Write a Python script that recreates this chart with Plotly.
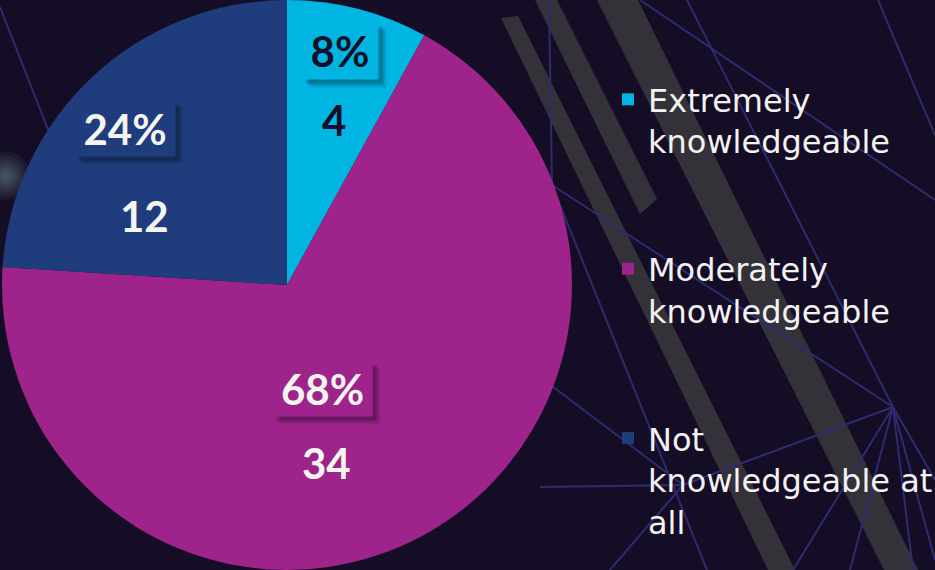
import plotly.graph_objects as go

# ---- data ----
categories = ["Extremely knowledgeable", "Moderately knowledgeable", "Not knowledgeable at all"]
legend_labels = ["Extremely<br>knowledgeable", "Moderately<br>knowledgeable", "Not<br>knowledgeable at<br>all"]
counts = [4, 34, 12]

# ---- styles / layout constants ----
W, H = 935, 570
slice_colors = ["#00B5E2", "#9E248C", "#1F3D7C"]
label_text_colors = ["#15102A", "#F5F5F0", "#F5F5F0"]
bg = "#150D25"
# label positions in pixels (same order as the slices)
pct_pos = [(340, 51), (322, 388), (125, 128)]
val_pos = [(334, 120), (326, 463), (144, 216)]
box_size = [(76, 56), (99, 55), (100, 55)]


def px(x, y):
    return x / W, 1 - y / H


def path(points, close=False):
    s = ""
    for i, (x, y) in enumerate(points):
        fx, fy = px(x, y)
        s += ("M" if i == 0 else "L") + f"{fx:.5f},{fy:.5f}"
    if close:
        s += "Z"
    return s


shapes = []
band_col = "rgba(58,57,60,0.85)"
bands = [
    [(501, 18), (518, 16), (795, 570), (768, 570)],
    [(535, 0), (557, 0), (657, 199), (640, 214)],
    [(597, 0), (638, 0), (918, 570), (884, 570)],
]
for b in bands:
    shapes.append(dict(type="path", path=path(b, True), xref="paper", yref="paper",
                       fillcolor=band_col, line=dict(width=0), layer="below"))

line_col = "#2E2B6E"
net = [
    [(640, 0), (935, 200)],
    [(687, 0), (893, 407)],
    [(878, 0), (935, 135)],
    [(549, 0), (552, 185)],
    [(552, 185), (707, 570)],
    [(552, 185), (893, 407)],
    [(893, 407), (935, 480)],
    [(893, 407), (793, 570)],
    [(893, 407), (850, 570)],
    [(893, 407), (913, 570)],
    [(893, 407), (935, 560)],
    [(893, 407), (683, 485)],
    [(683, 485), (540, 487)],
    [(683, 485), (520, 362)],
    [(683, 485), (610, 570)],
    [(0, 7), (60, 160)],
]
for seg in net:
    shapes.append(dict(type="path", path=path(seg), xref="paper", yref="paper",
                       line=dict(color=line_col, width=2), layer="below"))

# soft glow on the left edge
for r in [24, 20, 16, 13, 10, 7, 4]:
    x0, y0 = px(6 - r, 176 + r)
    x1, y1 = px(6 + r, 176 - r)
    shapes.append(dict(type="circle", xref="paper", yref="paper", x0=x0, y0=y0, x1=x1, y1=y1,
                       fillcolor="rgba(120,155,160,0.09)", line=dict(width=0), layer="below"))

# legend entries padded with blank lines so items are spaced like the reference
padded = [l + "<br>&#160;<br>&#160;" if i < len(legend_labels) - 1 else l
          for i, l in enumerate(legend_labels)]

fig = go.Figure(go.Pie(
    labels=padded,
    values=counts,
    sort=False,
    direction="clockwise",
    rotation=0,
    marker=dict(colors=slice_colors, line=dict(width=0)),
    textinfo="none",
    hovertext=categories,
    hoverinfo="text+value+percent",
    domain=dict(x=[2 / W, 572 / W], y=[0, 1]),
))

total = sum(counts)
annotations = []
label_font = dict(family="Lato, 'DejaVu Sans', sans-serif", size=42, weight="bold")
for i, v in enumerate(counts):
    pct = f"{round(v / total * 100)}%"
    (cx, cy), (vx, vy), (bw, bh) = pct_pos[i], val_pos[i], box_size[i]
    # shadow layers
    for off, col in [(8, "rgba(0,0,0,0.08)"), (6, "rgba(0,0,0,0.12)"), (4, "rgba(0,0,0,0.16)")]:
        fx, fy = px(cx + off, cy + off)
        annotations.append(dict(x=fx, y=fy, xref="paper", yref="paper", text=" ", showarrow=False,
                                width=bw, height=bh, bgcolor=col, borderpad=0,
                                xanchor="center", yanchor="middle"))
    fx, fy = px(cx, cy)
    annotations.append(dict(x=fx, y=fy, xref="paper", yref="paper", text=pct, showarrow=False,
                            width=bw, height=bh, bgcolor=slice_colors[i], borderpad=0,
                            font=dict(color=label_text_colors[i], **label_font),
                            xanchor="center", yanchor="middle"))
    fx, fy = px(vx, vy)
    annotations.append(dict(x=fx, y=fy, xref="paper", yref="paper", text=str(v), showarrow=False,
                            font=dict(color=label_text_colors[i], **label_font),
                            xanchor="center", yanchor="middle"))

fig.update_layout(
    width=W, height=H,
    margin=dict(l=0, r=0, t=0, b=0, pad=0, autoexpand=False),
    paper_bgcolor=bg,
    plot_bgcolor=bg,
    shapes=shapes,
    annotations=annotations,
    showlegend=True,
    legend=dict(
        xref="container", yref="container",
        x=608 / W, y=1 - 72 / H, xanchor="left", yanchor="top",
        font=dict(family="'DejaVu Sans', sans-serif", size=32, color="#F2F2F2"),
        bgcolor="rgba(0,0,0,0)",
        valign="top",
        traceorder="normal",
        maxheight=700,
    ),
)

fig.write_html("out.html")
